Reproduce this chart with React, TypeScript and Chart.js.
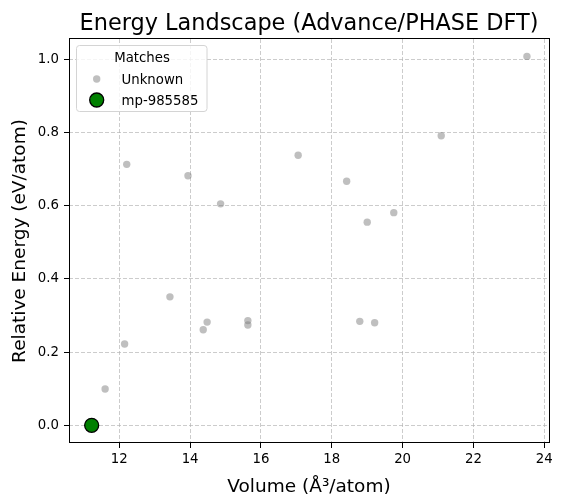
import React, { useEffect, useRef } from "react";
import { Chart, registerables } from "chart.js";

Chart.register(...registerables);

const TITLE = "Energy Landscape (Advance/PHASE DFT)";
const X_LABEL = "Volume (Å³/atom)";
const Y_LABEL = "Relative Energy (eV/atom)";
const LEGEND_TITLE = "Matches";
const UNKNOWN_LABEL = "Unknown";
const MATCH_LABEL = "mp-985585";

const unknownVolume = [11.60, 12.15, 12.21, 13.43, 13.94, 14.37, 14.48, 14.86, 15.63, 15.63, 17.05, 18.42, 18.79, 19.0, 19.21, 19.75, 21.09, 23.51];
const unknownEnergy = [0.099, 0.222, 0.713, 0.351, 0.682, 0.261, 0.282, 0.605, 0.286, 0.274, 0.738, 0.667, 0.284, 0.555, 0.280, 0.581, 0.791, 1.008];
const matchVolume = [11.22];
const matchEnergy = [0.0];

const xTicks = [12, 14, 16, 18, 20, 22, 24];
const xTickLabels = ["12", "14", "16", "18", "20", "22", "24"];
const yTicks = [0.0, 0.2, 0.4, 0.6, 0.8, 1.0];
const yTickLabels = ["0.0", "0.2", "0.4", "0.6", "0.8", "1.0"];

const X_MIN = 10.58;
const X_MAX = 24.133;
const Y_MIN = -0.0484;
const Y_MAX = 1.0555;

const FONT = "'DejaVu Sans', sans-serif";
const GRAY = "rgba(128,128,128,0.5)";
const GREEN = "#008000";

export default function App() {
  const ref = useRef<HTMLCanvasElement>(null);

  useEffect(() => {
    const canvas = ref.current;
    if (!canvas) return;

    const decor = {
      id: "decor",
      afterDraw(chart: any) {
        const { ctx, chartArea: a } = chart;
        ctx.save();
        // frame
        ctx.strokeStyle = "#000";
        ctx.lineWidth = 1;
        ctx.setLineDash([]);
        ctx.strokeRect(a.left + 0.5, a.top - 0.5, a.right - a.left, a.bottom - a.top);
        // title
        ctx.fillStyle = "#000";
        ctx.font = `22.4px ${FONT}`;
        ctx.textAlign = "center";
        ctx.textBaseline = "alphabetic";
        ctx.fillText(TITLE, (a.left + a.right) / 2, 30);
        // legend box
        const lx = 76.5, ly = 45.5, lw = 130.5, lh = 66, r = 3;
        ctx.beginPath();
        ctx.moveTo(lx + r, ly);
        ctx.lineTo(lx + lw - r, ly);
        ctx.arcTo(lx + lw, ly, lx + lw, ly + r, r);
        ctx.lineTo(lx + lw, ly + lh - r);
        ctx.arcTo(lx + lw, ly + lh, lx + lw - r, ly + lh, r);
        ctx.lineTo(lx + r, ly + lh);
        ctx.arcTo(lx, ly + lh, lx, ly + lh - r, r);
        ctx.lineTo(lx, ly + r);
        ctx.arcTo(lx, ly, lx + r, ly, r);
        ctx.closePath();
        ctx.fillStyle = "rgba(255,255,255,0.8)";
        ctx.fill();
        ctx.strokeStyle = "#d4d4d4";
        ctx.stroke();
        // legend title
        ctx.fillStyle = "#000";
        ctx.font = `13.3px ${FONT}`;
        ctx.textAlign = "center";
        ctx.fillText(LEGEND_TITLE, 142, 62);
        // entries
        ctx.textAlign = "left";
        ctx.fillText(UNKNOWN_LABEL, 121.5, 84);
        ctx.fillText(MATCH_LABEL, 121.5, 105);
        ctx.beginPath();
        ctx.arc(96.7, 79, 3.7, 0, Math.PI * 2);
        ctx.fillStyle = GRAY;
        ctx.fill();
        ctx.beginPath();
        ctx.arc(96.7, 100, 7, 0, Math.PI * 2);
        ctx.fillStyle = GREEN;
        ctx.fill();
        ctx.lineWidth = 1.3;
        ctx.strokeStyle = "#000";
        ctx.stroke();
        ctx.restore();
      },
    };

    const gridCommon = {
      color: "rgba(176,176,176,0.65)",
      lineWidth: 1,
      drawTicks: true,
      tickLength: 5,
      tickColor: "#000",
      tickWidth: 1,
      tickBorderDash: [],
    };

    const chart = new Chart(canvas, {
      type: "scatter",
      data: {
        datasets: [
          {
            label: MATCH_LABEL,
            data: matchVolume.map((v, i) => ({ x: v, y: matchEnergy[i] })),
            backgroundColor: GREEN,
            borderColor: "#000",
            borderWidth: 1.3,
            pointRadius: 7,
            pointHoverRadius: 7,
          },
          {
            label: UNKNOWN_LABEL,
            data: unknownVolume.map((v, i) => ({ x: v, y: unknownEnergy[i] })),
            backgroundColor: GRAY,
            borderColor: GRAY,
            borderWidth: 0,
            pointRadius: 3.7,
            pointHoverRadius: 3.7,
          },
        ],
      },
      options: {
        responsive: false,
        animation: false,
        devicePixelRatio: 1,
        layout: { padding: { left: 0, right: 13, top: 39, bottom: 0 } },
        plugins: {
          legend: { display: false },
          title: { display: false },
          tooltip: { enabled: false },
        },
        scales: {
          x: {
            type: "linear",
            min: X_MIN,
            max: X_MAX,
            afterBuildTicks: (s: any) => {
              s.ticks = xTicks.map((v) => ({ value: v }));
            },
            afterFit: (s: any) => {
              s.height = 56;
            },
            grid: gridCommon,
            border: { display: false, dash: [4, 2] },
            ticks: {
              color: "#000",
              font: { family: FONT, size: 13.3 },
              padding: 4,
              maxRotation: 0,
              autoSkip: false,
              callback: (_v: any, i: number) => xTickLabels[i],
            },
            title: {
              display: true,
              text: X_LABEL,
              color: "#000",
              font: { family: FONT, size: 18.5 },
              padding: { top: 0, bottom: 0.5 },
            },
          },
          y: {
            type: "linear",
            min: Y_MIN,
            max: Y_MAX,
            afterBuildTicks: (s: any) => {
              s.ticks = yTicks.map((v) => ({ value: v }));
            },
            afterFit: (s: any) => {
              s.width = 69;
            },
            grid: gridCommon,
            border: { display: false, dash: [4, 2] },
            ticks: {
              color: "#000",
              font: { family: FONT, size: 13.3 },
              padding: 5,
              autoSkip: false,
              callback: (_v: any, i: number) => yTickLabels[i],
            },
            title: {
              display: true,
              text: Y_LABEL,
              color: "#000",
              font: { family: FONT, size: 18.5 },
              padding: { top: 9, bottom: 0 },
            },
          },
        },
      },
      plugins: [decor],
    } as any);

    return () => chart.destroy();
  }, []);

  return (
    <div style={{ position: "fixed", left: 0, top: 0, width: 562, height: 499, background: "#fff" }}>
      <canvas ref={ref} width={562} height={499} style={{ display: "block", width: 562, height: 499 }} />
    </div>
  );
}
